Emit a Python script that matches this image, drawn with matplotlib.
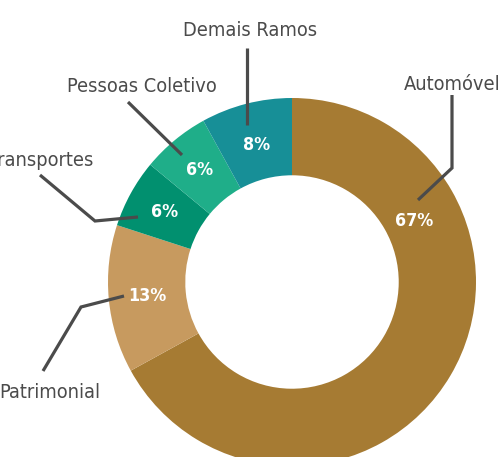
import matplotlib
matplotlib.use("Agg")
import matplotlib.pyplot as plt
from matplotlib import font_manager as fm
from matplotlib.textpath import TextPath
import numpy as np

categories = ["Automóvel", "Patrimonial", "Transportes", "Pessoas Coletivo", "Demais Ramos"]
values = [67, 13, 6, 6, 8]
colors = ["#A67B33", "#C79A5F", "#01906F", "#1FAE89", "#178F97"]

# ---------- font choice: prefer a condensed sans, else Roboto ----------
def find_font(bold):
    cond_words = ("condensed", "narrow")
    for f in fm.fontManager.ttflist:
        if f.style != "normal":
            continue
        w = f.weight if isinstance(f.weight, int) else (700 if "bold" in str(f.weight) else 400)
        if bold and w < 600:
            continue
        if not bold and w != 400:
            continue
        is_cond = any(c in f.name.lower() for c in cond_words) or "condensed" in str(f.stretch)
        if is_cond and any(k in f.name for k in ("Roboto", "Liberation", "Noto Sans", "Open Sans", "DejaVu")):
            if "mono" in f.name.lower() or "serif" in f.name.lower() or "CJK" in f.name:
                continue
            return fm.FontProperties(fname=f.fname)
    return fm.FontProperties(family="Roboto", weight="bold" if bold else "normal")

prop_reg = find_font(False)
prop_bold = find_font(True)

def size_for(prop, s, target_w, cap, target_h):
    w = TextPath((0, 0), s, size=100, prop=prop).get_extents().width
    h = TextPath((0, 0), cap, size=100, prop=prop).get_extents().height
    s_w = 100 * target_w / w
    s_h = 100 * target_h / h
    return np.sqrt(s_w * s_h) * 0.72  # points at dpi 100

fs_lab = size_for(prop_reg, "Demais Ramos", 127, "D", 15)
fs_pct = size_for(prop_bold, "67%", 35, "6", 14)

W, H = 498, 457
CX, CY, R = 292, 282, 184  # pixel center / outer radius of donut

fig = plt.figure(figsize=(W / 100, H / 100), dpi=100)
ax = fig.add_axes([0, 0, 1, 1])
ax.axis("off")

def P(px, py):
    return ((px - CX) / R, (CY - py) / R)

ring = 0.42
wedges, _ = ax.pie(values, colors=colors, startangle=90, counterclock=False,
                   radius=1, wedgeprops=dict(width=ring, linewidth=0),
                   frame=False)
ax.set_xlim(-CX / R, (W - CX) / R)
ax.set_ylim(-(H - CY) / R, CY / R)
ax.set_aspect("equal")

mid_r = 1 - ring / 2
label_angles = [np.deg2rad((w.theta1 + w.theta2) / 2) for w in wedges]
label_angles[0] = np.deg2rad(26.5)
label_r = [0.74, mid_r, mid_r, mid_r, 0.77]
for v, a, r in zip(values, label_angles, label_r):
    ax.text(r * np.cos(a), r * np.sin(a), f"{v}%", color="white", fontsize=fs_pct,
            fontproperties=prop_bold, ha="center", va="center")

lc = "#4B4B4B"
lw = 2.3
leaders = {
    "Demais Ramos": [(247, 48), (247, 125)],
    "Pessoas Coletivo": [(128, 102), (182, 155)],
    "Transportes": [(40, 175), (95, 221), (138, 217)],
    "Patrimonial": [(43, 371), (81, 307), (124, 296)],
    "Automóvel": [(452, 95), (452, 168), (418, 200)],
}
for name, pts in leaders.items():
    xs, ys = zip(*[P(*p) for p in pts])
    ax.plot(xs, ys, color=lc, lw=lw, solid_capstyle="butt", solid_joinstyle="miter")

text_pos = {
    "Demais Ramos": ((250, 29), "center"),
    "Pessoas Coletivo": ((142, 85), "center"),
    "Transportes": ((93, 158), "right"),
    "Patrimonial": ((-1, 390), "left"),
    "Automóvel": ((404, 83), "left"),
}
for name, ((px, py), ha) in text_pos.items():
    x, y = P(px, py)
    ax.text(x, y, name, color=lc, fontsize=fs_lab, fontproperties=prop_reg,
            ha=ha, va="center_baseline")

fig.savefig("out.png", dpi=100)
